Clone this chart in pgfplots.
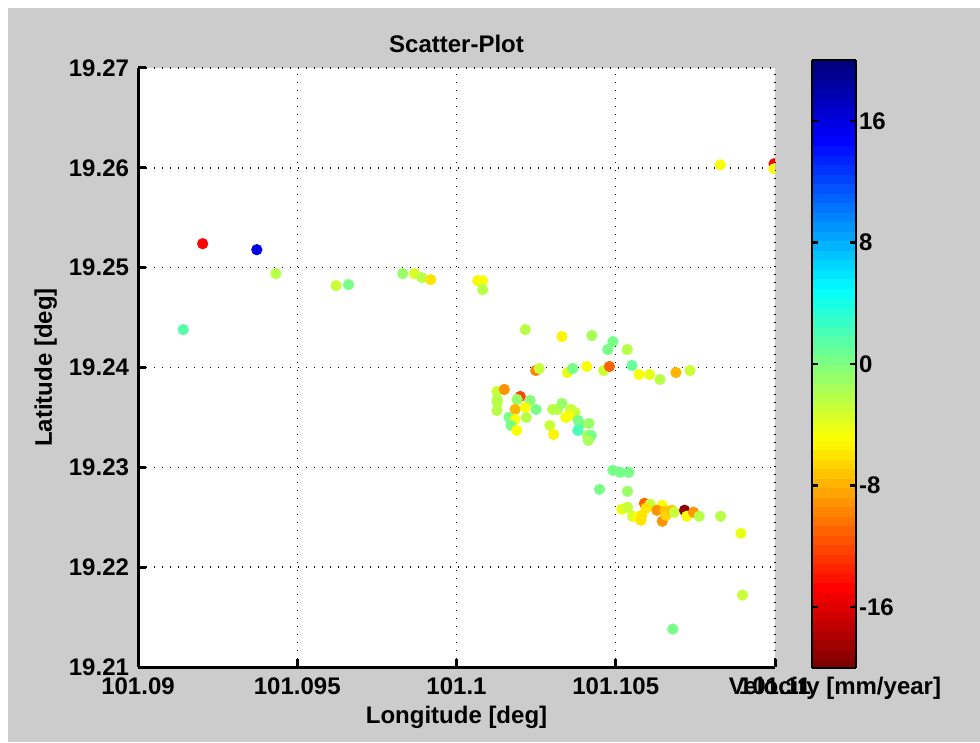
\documentclass[border=0pt]{standalone}
\usepackage{fontspec}
\setmainfont{Liberation Sans}
\usepackage{pgfplots}
\pgfplotsset{compat=1.18}
\usepackage{pgfplotstable}
\definecolor{bg}{HTML}{CCCCCC}

\pgfplotstableread{
x y v
101.09203 19.2524 -15
101.09373 19.2518 16
101.09433 19.2494 -2.5
101.09622 19.2482 -3
101.09661 19.2483 0
101.09831 19.2494 -1
101.09868 19.2494 -3.5
101.09891 19.2490 -2
101.09919 19.2488 -6
101.09142 19.2438 1.5
101.10067 19.2487 -5.5
101.10082 19.2487 -4.5
101.10082 19.2478 -2.5
101.10216 19.2438 -2
101.10331 19.2431 -5.5
101.10425 19.2432 -1.5
101.10491 19.2426 0.5
101.10475 19.2418 0.5
101.10536 19.2418 -2.5
101.10551 19.2402 1
101.10249 19.2397 -10
101.10260 19.2399 -3
101.10348 19.2395 -4
101.10365 19.2399 0
101.10409 19.2401 -5
101.10462 19.2397 -3
101.10480 19.2401 -11
101.10573 19.2393 -4.5
101.10606 19.2393 -4
101.10639 19.2388 -2.5
101.10689 19.2395 -8
101.10733 19.2397 -3
101.10127 19.2376 -3
101.10150 19.2378 -9
101.10128 19.2368 -2.5
101.10128 19.2365 -2.5
101.10127 19.2357 -2.5
101.10200 19.2371 -12
101.10190 19.2368 -1
101.10231 19.2367 -0.5
101.10184 19.2358 -8
101.10216 19.2360 -5
101.10250 19.2358 0
101.10165 19.2350 0
101.10184 19.2348 -5
101.10219 19.2350 -2
101.10171 19.2342 0
101.10189 19.2337 -4.5
101.10302 19.2358 -2
101.10317 19.2358 -2
101.10331 19.2364 -1
101.10359 19.2358 -3
101.10372 19.2355 -3
101.10343 19.2350 -5
101.10353 19.2352 -5
101.10382 19.2347 0.5
101.10388 19.2343 0
101.10381 19.2337 2
101.10416 19.2344 -1
101.10293 19.2342 -3
101.10305 19.2333 -5.5
101.10411 19.2332 -1.5
101.10423 19.2332 0
101.10414 19.2327 -1.5
101.10491 19.2297 0.5
101.10514 19.2295 0.5
101.10541 19.2295 0.5
101.10449 19.2278 0
101.10537 19.2276 -1
101.10519 19.2258 -4
101.10537 19.2260 -3
101.10590 19.2264 -11
101.10608 19.2263 -3
101.10595 19.2259 -6
101.10553 19.2251 -3.5
101.10568 19.2250 -4.5
101.10582 19.2252 -6
101.10579 19.2247 -6
101.10646 19.2262 -5
101.10629 19.2257 -9
101.10655 19.2256 -7
101.10646 19.2246 -9
101.10658 19.2252 -6.5
101.10676 19.2257 -7
101.10684 19.2255 -3
101.10716 19.2257 -19
101.10723 19.2251 -5
101.10744 19.2255 -9
101.10762 19.2251 -2.5
101.10829 19.2251 -2.5
101.10893 19.2234 -4
101.10898 19.2172 -3
101.10679 19.2138 0
101.10828 19.2603 -5
101.10997 19.2604 -15
101.10997 19.2599 -5
}\scatterdata

\begin{document}
\begin{tikzpicture}[x=1bp,y=1bp]
\fill[white] (0,0) rectangle (490,371);
\fill[bg] (4,0) rectangle (490,367);
\begin{axis}[
  at={(69bp,37.5bp)}, anchor=south west,
  scale only axis, width=318.5bp, height=299.5bp,
  xmin=101.09, xmax=101.11, ymin=19.21, ymax=19.27,
  xtick={101.09,101.095,101.1,101.105,101.11},
  xticklabels={101.09,101.095,101.1,101.105,101.11},
  ytick={19.21,19.22,19.23,19.24,19.25,19.26,19.27},
  yticklabels={19.21,19.22,19.23,19.24,19.25,19.26,19.27},
  axis background/.style={fill=white},
  grid=major,
  major grid style={black, line width=0.7bp, dash pattern=on 0.7bp off 3.3bp},
  axis x line*=bottom, axis y line*=left,
  axis line style={line width=1.5bp, black},
  tick align=inside, major tick length=4bp,
  tick style={line width=1.5bp, black},
  ticklabel style={font=\bfseries\fontsize{12bp}{14bp}\selectfont},
  xticklabel style={yshift=-2bp},
  yticklabel style={xshift=-1bp},
  title={\bfseries Scatter-Plot},
  title style={font=\bfseries\fontsize{12bp}{14bp}\selectfont, at={(0.5,1)}, anchor=south, yshift=-2bp},
  xlabel={Longitude [deg]},
  xlabel style={font=\bfseries\fontsize{12bp}{14bp}\selectfont, at={(axis description cs:0.5,0)}, anchor=north, yshift=-16bp},
  ylabel={Latitude [deg]},
  ylabel style={font=\bfseries\fontsize{12bp}{14bp}\selectfont, at={(axis description cs:-0.116,0.5)}, anchor=south, rotate=0},
  colormap={jetr}{rgb255(0cm)=(128,0,0) rgb255(1cm)=(255,0,0) rgb255(3cm)=(255,255,0) rgb255(5cm)=(0,255,255) rgb255(7cm)=(0,0,255) rgb255(8cm)=(0,0,128)},
  colormap={jet64}{samples of colormap=(64 of jetr)},
  colormap access=piecewise constant,
  point meta min=-20, point meta max=20,
  colorbar,
  colorbar style={
    at={(parent axis.south east)}, anchor=south west, xshift=10bp, yshift=-0.5bp,
    scale only axis, width=22bp, height=304bp,
    ytick={-16,-8,0,8,16},
    ytick pos=both, yticklabel pos=right,
    tick align=inside, major tick length=3bp,
    axis line style={line width=1.2bp, black},
    tick style={line width=1.2bp, black},
    yticklabel style={font=\bfseries\fontsize{12bp}{14bp}\selectfont, xshift=-2bp},
    /pgf/number format/assume math mode=true,
  },
  /pgf/number format/assume math mode=true,
  clip marker paths=true,
]
\addplot[scatter, only marks, mark=*, mark size=2.6bp,
  scatter/use mapped color={draw=mapped color, fill=mapped color},
  point meta=explicit] table[x=x, y=y, meta=v] {\scatterdata};
\end{axis}
\node[font=\bfseries\fontsize{12bp}{14bp}\selectfont] at (417.5,27) {Velocity [mm/year]};
\end{tikzpicture}
\end{document}
